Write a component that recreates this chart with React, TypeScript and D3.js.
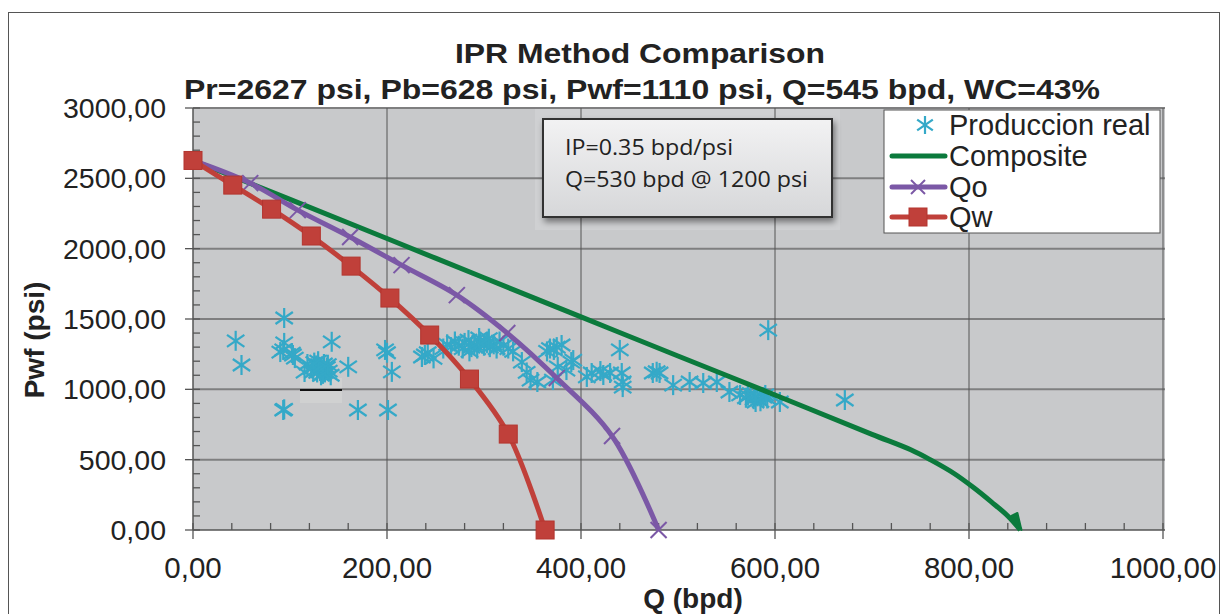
import React from "react";
import * as d3 from "d3";

const titleText = "IPR Method Comparison";
const subtitleText = "Pr=2627 psi, Pb=628 psi, Pwf=1110 psi, Q=545 bpd, WC=43%";
const infoLines = ["IP=0.35 bpd/psi", "Q=530 bpd @ 1200 psi"];
const legendLabels = ["Produccion real", "Composite", "Qo", "Qw"];

const xTicks = [0, 200, 400, 600, 800, 1000];
const yTicks = [0, 500, 1000, 1500, 2000, 2500, 3000];

// Qw (red squares)
const qwQ = [0, 41, 81, 122, 163, 203, 244, 285, 325, 363];
const qwP = [2627, 2452, 2281, 2090, 1876, 1649, 1386, 1073, 682, 0];

// Qo (purple x)
const qoQ = [0, 59, 108, 162, 215, 272, 324, 375, 432, 480];
const qoP = [2627, 2466, 2274, 2083, 1883, 1670, 1400, 1080, 668, 0];

// Composite (green)
const compQ = [0, 100, 200, 300, 400, 500, 600, 700, 740, 760, 785, 805, 823, 840, 853];
const compP = [2627, 2350, 2072, 1793, 1515, 1237, 960, 680, 570, 500, 400, 300, 200, 100, 0];

// Produccion real (scatter)
const realQ = [
  44, 50, 94, 94, 90, 93, 102, 105, 143, 160, 93, 94, 170, 201, 198, 200, 205, 115, 103,
  118, 122, 125, 128, 130, 132, 133, 135, 136, 138, 140, 142, 127, 131, 134, 129, 139, 124,
  239, 236, 242, 248,
  258, 262, 266, 270, 274, 278, 280, 284, 287, 290, 293, 296, 300, 303, 306, 310, 313, 316, 320, 325, 330, 285, 295, 305,
  339, 344, 348, 355, 371, 368, 375, 372, 365, 376, 380, 390, 385, 392, 406, 411, 420, 423, 430, 440, 442, 443, 443,
  474, 481, 478, 495, 512, 526, 540, 553,
  564, 570, 575, 578, 582, 585, 588, 592, 580, 572, 590,
  593, 605, 672,
];
const realP = [
  1345, 1173, 1507, 1330, 1265, 1280, 1258, 1222, 1338, 1160, 853, 858, 853, 853, 1280, 1260, 1124, 1123, 1244,
  1180, 1150, 1190, 1120, 1160, 1100, 1140, 1180, 1120, 1155, 1130, 1100, 1170, 1130, 1110, 1200, 1175, 1125,
  1244, 1230, 1260, 1220,
  1290, 1320, 1300, 1340, 1310, 1290, 1330, 1350, 1300, 1320, 1290, 1340, 1310, 1330, 1300, 1320, 1290, 1340, 1310, 1290, 1270, 1270, 1365, 1360,
  1194, 1120, 1066, 1052, 1066, 1290, 1300, 1280, 1270, 1160, 1315, 1194, 1137, 1208, 1088, 1116, 1130, 1102, 1116, 1280, 1116, 1016, 1052,
  1116, 1116, 1125, 1030, 1052, 1045, 1052, 981,
  960, 940, 970, 930, 950, 915, 945, 935, 910, 955, 960,
  1421, 910, 924,
];

const COL_REAL = "#35a9c8";
const COL_COMP = "#0b7a3c";
const COL_QO = "#7b58a6";
const COL_QW = "#c0403a";
const FONT = "'Liberation Sans', Arial, sans-serif";

const fmt = d3.formatLocale({ decimal: ",", thousands: "", grouping: [3], currency: ["", ""] }).format(".2f");

function Asterisk({ x, y, r = 10, color = COL_REAL }: { x: number; y: number; r?: number; color?: string }) {
  const dx = r * 0.87;
  const dy = r * 0.6;
  return (
    <g stroke={color} strokeWidth={2.2} fill="none">
      <line x1={x} y1={y - r} x2={x} y2={y + r} />
      <line x1={x - dx} y1={y - dy} x2={x + dx} y2={y + dy} />
      <line x1={x - dx} y1={y + dy} x2={x + dx} y2={y - dy} />
    </g>
  );
}

function XMark({ x, y, r = 8, color = COL_QO }: { x: number; y: number; r?: number; color?: string }) {
  return (
    <g stroke={color} strokeWidth={2}>
      <line x1={x - r} y1={y - r} x2={x + r} y2={y + r} />
      <line x1={x - r} y1={y + r} x2={x + r} y2={y - r} />
    </g>
  );
}

export default function App() {
  const left = 193, right = 1163, top = 108, bottom = 530;
  const x = d3.scaleLinear().domain([0, 1000]).range([left, right]);
  const y = d3.scaleLinear().domain([0, 3000]).range([bottom, top]);

  const smooth = d3.line<[number, number]>().x((d) => x(d[0])).y((d) => y(d[1])).curve(d3.curveCatmullRom.alpha(0.5));

  const qw: [number, number][] = qwQ.map((q, i) => [q, qwP[i]]);
  const qo: [number, number][] = qoQ.map((q, i) => [q, qoP[i]]);
  const comp: [number, number][] = compQ.map((q, i) => [q, compP[i]]);
  const real: [number, number][] = realQ.map((q, i) => [q, realP[i]]);

  const xMinor = d3.range(0, 1001, 40);
  const yMinor = d3.range(0, 3001, 100);

  const legX = 884, legY = 110;
  const legRows = [125, 156, 187, 217];

  const endQ = compQ[compQ.length - 1];
  const endP = compP[compP.length - 1];

  return (
    <svg width={1225} height={614} style={{ position: "absolute", left: 0, top: 0, display: "block", background: "#fff" }} fontFamily={FONT}>
      <defs>
        <linearGradient id="boxGrad" x1="0" y1="0" x2="0" y2="1">
          <stop offset="0%" stopColor="#f2f2f3" />
          <stop offset="100%" stopColor="#d6d7d9" />
        </linearGradient>
        <filter id="shadow" x="-10%" y="-10%" width="130%" height="140%">
          <feDropShadow dx="2" dy="4" stdDeviation="3" floodColor="#000" floodOpacity="0.45" />
        </filter>
      </defs>

      {/* outer frame */}
      <rect x={8.5} y={12.5} width={1211} height={620} fill="#fff" stroke="#555" strokeWidth={1} />

      {/* plot area */}
      <rect x={left} y={top} width={right - left + 2} height={bottom - top} fill="#c8c9cb" />
      <rect x={535} y={108} width={305} height={122} fill="#cfd0d2" />
      <rect x={300} y={378} width={42} height={25} fill="#d0d1d1" />

      {/* gridlines */}
      {yTicks.filter((t) => t > 0).map((t) => (
        <line key={"gy" + t} x1={left} x2={right + 2} y1={y(t)} y2={y(t)} stroke="#7f7f80" strokeWidth={2} />
      ))}
      {xTicks.filter((t) => t > 0).map((t) => (
        <line key={"gx" + t} x1={x(t)} x2={x(t)} y1={top} y2={bottom} stroke="#555" strokeWidth={1} />
      ))}
      <line x1={300} x2={342} y1={390} y2={390} stroke="#111" strokeWidth={2} />

      {/* axes */}
      <line x1={left} x2={left} y1={top} y2={bottom} stroke="#555" strokeWidth={1.5} />
      <line x1={left} x2={right + 2} y1={bottom} y2={bottom} stroke="#555" strokeWidth={1.5} />
      {yMinor.map((t) => (
        <line key={"ym" + t} x1={t % 500 === 0 ? left - 8 : left} x2={left + 7} y1={y(t)} y2={y(t)} stroke="#555" strokeWidth={1.3} />
      ))}
      {xMinor.map((t) => (
        <line key={"xm" + t} x1={x(t)} x2={x(t)} y1={bottom - 7} y2={t % 200 === 0 ? bottom + 9 : bottom} stroke="#555" strokeWidth={1.3} />
      ))}

      {/* tick labels */}
      {yTicks.map((t) => (
        <text key={"yl" + t} x={166} y={y(t) + 10} textAnchor="end" fontSize={28.5} fill="#222">{fmt(t)}</text>
      ))}
      {xTicks.map((t) => (
        <text key={"xl" + t} x={x(t)} y={578} textAnchor="middle" fontSize={29.5} fill="#222">{fmt(t)}</text>
      ))}

      {/* axis titles */}
      <text x={693} y={608} textAnchor="middle" fontSize={28} fontWeight="bold" fill="#222">Q (bpd)</text>
      <text transform="translate(44,340) rotate(-90)" textAnchor="middle" fontSize={28} fontWeight="bold" fill="#222">Pwf (psi)</text>

      {/* titles */}
      <text x={640} y={63} textAnchor="middle" fontSize={28} fontWeight="bold" fill="#222" textLength={370} lengthAdjust="spacingAndGlyphs">{titleText}</text>
      <text x={642} y={99} textAnchor="middle" fontSize={28} fontWeight="bold" fill="#222" textLength={916} lengthAdjust="spacingAndGlyphs">{subtitleText}</text>

      {/* scatter */}
      {real.map((d, i) => (
        <Asterisk key={"r" + i} x={x(d[0])} y={y(d[1])} />
      ))}

      {/* composite */}
      <path d={smooth(comp) || ""} fill="none" stroke={COL_COMP} strokeWidth={5} strokeLinejoin="round" />
      <path
        d={`M${x(endQ) - 9},${y(endP) - 14} L${x(endQ) + 1},${y(endP)} L${x(endQ) - 3},${y(endP) - 17} Z`}
        fill={COL_COMP}
        stroke={COL_COMP}
        strokeWidth={2}
        strokeLinejoin="round"
      />

      {/* Qo */}
      <path d={smooth(qo) || ""} fill="none" stroke={COL_QO} strokeWidth={5} strokeLinejoin="round" />
      {qo.map((d, i) => (
        <XMark key={"o" + i} x={x(d[0])} y={y(d[1])} />
      ))}

      {/* Qw */}
      <path d={smooth(qw) || ""} fill="none" stroke={COL_QW} strokeWidth={5} strokeLinejoin="round" />
      {qw.map((d, i) => (
        <rect key={"w" + i} x={x(d[0]) - 9} y={y(d[1]) - 9} width={18} height={18} fill={COL_QW} stroke="#b3352f" strokeWidth={1} />
      ))}

      {/* info box */}
      <rect x={543} y={119} width={289} height={98} fill="url(#boxGrad)" stroke="#333" strokeWidth={2} filter="url(#shadow)" />
      <text x={565} y={155} fontSize={22} fontFamily="'Open Sans', 'Noto Sans', sans-serif" fill="#222" textLength={168} lengthAdjust="spacingAndGlyphs">{infoLines[0]}</text>
      <text x={565} y={187} fontSize={22} fontFamily="'Open Sans', 'Noto Sans', sans-serif" fill="#222" textLength={243} lengthAdjust="spacingAndGlyphs">{infoLines[1]}</text>

      {/* legend */}
      <rect x={legX} y={legY} width={276} height={123} fill="#fff" stroke="#555" strokeWidth={1} />
      <Asterisk x={925} y={legRows[0]} r={9} />
      <line x1={892} x2={945} y1={legRows[1]} y2={legRows[1]} stroke={COL_COMP} strokeWidth={5} strokeLinecap="round" />
      <line x1={892} x2={945} y1={legRows[2]} y2={legRows[2]} stroke={COL_QO} strokeWidth={5} strokeLinecap="round" />
      <XMark x={918} y={legRows[2]} r={7} />
      <line x1={892} x2={945} y1={legRows[3]} y2={legRows[3]} stroke={COL_QW} strokeWidth={5} strokeLinecap="round" />
      <rect x={909} y={legRows[3] - 9} width={18} height={18} fill={COL_QW} stroke="#b3352f" />
      {legendLabels.map((l, i) => (
        <text key={"lg" + i} x={949} y={legRows[i] + 10} fontSize={29} fill="#222">{l}</text>
      ))}
    </svg>
  );
}
